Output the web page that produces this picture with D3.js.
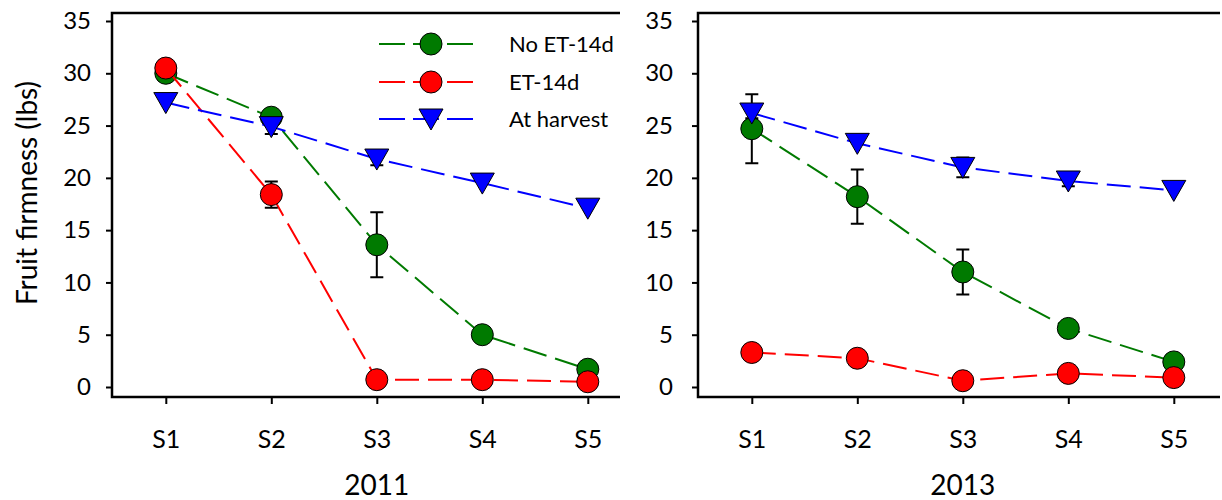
<!DOCTYPE html>
<html>
<head>
<meta charset="utf-8">
<script src="https://cdn.jsdelivr.net/npm/d3@7"></script>
<style>
  html, body { margin: 0; padding: 0; background: #fff; }
  svg { display: block; font-family: Lato, "Open Sans", sans-serif; }
</style>
</head>
<body>
<svg id="chart" width="1222" height="500"></svg>
<script>
// ---- data ----
const categories = ["S1", "S2", "S3", "S4", "S5"];
const yTicks = [0, 5, 10, 15, 20, 25, 30, 35];
const seriesNames = ["No ET-14d", "ET-14d", "At harvest"];
const years = ["2011", "2013"];

const noET2011 = [30.0, 25.8, 13.6, 5.0, 1.7];
const noET2011Err = [0, 0, 3.1, 0, 0];
const et2011 = [30.5, 18.4, 0.7, 0.7, 0.5];
const et2011Err = [0, 1.25, 0, 0, 0];
const harvest2011 = [27.2, 24.9, 21.8, 19.5, 17.1];
const harvest2011Err = [0, 0.7, 0.6, 0, 0];

const noET2013 = [24.7, 18.2, 11.0, 5.6, 2.4];
const noET2013Err = [3.3, 2.6, 2.15, 0, 0];
const et2013 = [3.3, 2.75, 0.6, 1.3, 0.9];
const et2013Err = [0, 0, 0, 0, 0];
const harvest2013 = [26.2, 23.3, 21.0, 19.7, 18.8];
const harvest2013Err = [0.5, 0, 0.95, 0.5, 0];

// ---- styles ----
const colors = ["#007a00", "#ff0000", "#0000ff"];
const shapes = ["circle", "circle", "triangle"];

const svg = d3.select("#chart");

const panels = [
  { year: years[0], left: 112, right: 620, labelPad: 15,
    series: [[noET2011, noET2011Err], [et2011, et2011Err], [harvest2011, harvest2011Err]] },
  { year: years[1], left: 698, right: 1220, labelPad: 19,
    series: [[noET2013, noET2013Err], [et2013, et2013Err], [harvest2013, harvest2013Err]] }
];

const frameTop = 13, frameBottom = 397;
const y = d3.scaleLinear().domain([0, 35]).range([387, 21]);
const stepPx = 105.5;

function drawMarker(g, shape, cx, cy, color) {
  if (shape === "circle") {
    g.append("circle").attr("cx", cx).attr("cy", cy).attr("r", 11)
      .attr("fill", color).attr("stroke", "#000").attr("stroke-width", 1);
  } else {
    const w = 12, h1 = 10, h2 = 11;
    g.append("path")
      .attr("d", `M${cx - w},${cy - h1}L${cx + w},${cy - h1}L${cx},${cy + h2}Z`)
      .attr("fill", color).attr("stroke", "#000").attr("stroke-width", 1);
  }
}

panels.forEach(p => {
  const x = d3.scaleLinear()
    .domain([0.49, 0.49 + (p.right - p.left) / stepPx])
    .range([p.left, p.right]);
  const g = svg.append("g");

  // y axis
  const yAx = g.append("g").attr("transform", `translate(${p.left},0)`)
    .call(d3.axisLeft(y).tickValues(yTicks).tickSize(6).tickSizeOuter(0).tickPadding(p.labelPad));
  yAx.select(".domain").remove();
  yAx.selectAll(".tick line").attr("stroke", "#000").attr("stroke-width", 2);
  yAx.selectAll(".tick text").attr("font-size", 24).attr("fill", "#000")
    .attr("font-family", "Lato, 'Open Sans', sans-serif");

  // x axis
  const xAx = g.append("g").attr("transform", `translate(0,${frameBottom})`)
    .call(d3.axisBottom(x).tickValues([1, 2, 3, 4, 5])
      .tickFormat(d => categories[d - 1]).tickSize(7).tickSizeOuter(0).tickPadding(26));
  xAx.select(".domain").remove();
  xAx.selectAll(".tick line").attr("stroke", "#000").attr("stroke-width", 2);
  xAx.selectAll(".tick text").attr("font-size", 25).attr("fill", "#000")
    .attr("font-family", "Lato, 'Open Sans', sans-serif");

  // frame lines: left, bottom, top
  g.append("path")
    .attr("d", `M${p.right},${frameTop}H${p.left}V${frameBottom}H${p.right}`)
    .attr("fill", "none").attr("stroke", "#000").attr("stroke-width", 2.5);

  // year label
  g.append("text").attr("x", x(3)).attr("y", 495)
    .attr("text-anchor", "middle").attr("font-size", 28).attr("fill", "#000")
    .text(p.year);

  // series
  p.series.forEach(([vals, errs], si) => {
    const sg = g.append("g");
    const line = d3.line().x((d, i) => x(i + 1)).y(d => y(d));
    sg.append("path").datum(vals).attr("d", line)
      .attr("fill", "none").attr("stroke", colors[si]).attr("stroke-width", 2)
      .attr("stroke-dasharray", "24 9");
    vals.forEach((v, i) => {
      const e = errs[i];
      if (e > 0) {
        const cx = x(i + 1);
        sg.append("path")
          .attr("d", `M${cx},${y(v + e)}V${y(v - e)}M${cx - 6.5},${y(v + e)}H${cx + 6.5}M${cx - 6.5},${y(v - e)}H${cx + 6.5}`)
          .attr("stroke", "#000").attr("stroke-width", 2).attr("fill", "none");
      }
    });
    vals.forEach((v, i) => drawMarker(sg, shapes[si], x(i + 1), y(v), colors[si]));
  });
});

// y axis title
svg.append("text")
  .attr("transform", "translate(37,193) rotate(-90)")
  .attr("text-anchor", "middle").attr("font-size", 28).attr("fill", "#000")
  .text("Fruit firmness (lbs)");

// legend
const legendRows = [44, 82, 119];
const lg = svg.append("g");
seriesNames.forEach((name, i) => {
  const ly = legendRows[i];
  lg.append("line").attr("x1", 379).attr("x2", 473).attr("y1", ly).attr("y2", ly)
    .attr("stroke", colors[i]).attr("stroke-width", 2).attr("stroke-dasharray", "26 8");
  drawMarker(lg, shapes[i], 431, ly, colors[i]);
  lg.append("text").attr("x", 509).attr("y", ly + 8).attr("font-size", 22)
    .attr("fill", "#000").text(name);
});
</script>
</body>
</html>
